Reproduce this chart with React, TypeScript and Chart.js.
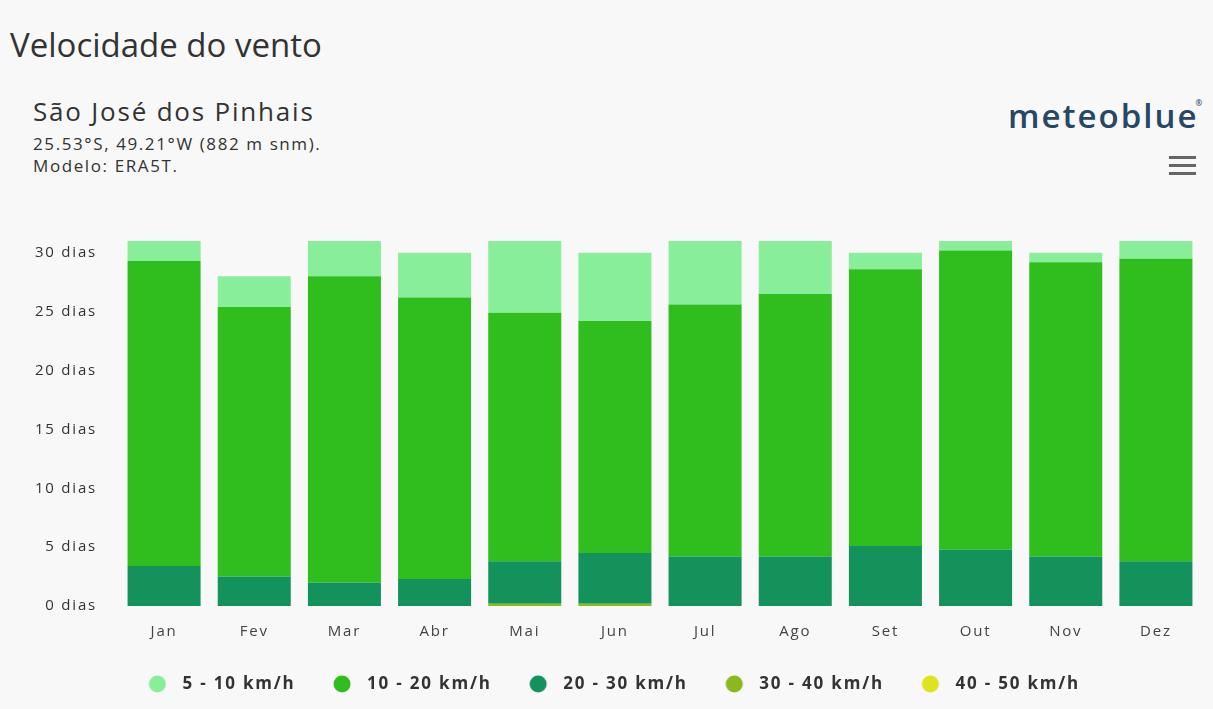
import React, { useEffect, useRef } from "react";
import { Chart, registerables } from "chart.js";

Chart.register(...registerables);

const months = ["Jan", "Fev", "Mar", "Abr", "Mai", "Jun", "Jul", "Ago", "Set", "Out", "Nov", "Dez"];
const yTicks = [0, 5, 10, 15, 20, 25, 30];

// stacked bottom-to-top
const kmh40to50 = [0, 0, 0, 0, 0, 0, 0, 0, 0, 0, 0, 0];
const kmh30to40 = [0, 0, 0, 0, 0.2, 0.2, 0, 0, 0, 0, 0, 0];
const kmh20to30 = [3.4, 2.5, 2.0, 2.3, 3.6, 4.3, 4.2, 4.2, 5.1, 4.8, 4.2, 3.8];
const kmh10to20 = [25.9, 22.9, 26.0, 23.9, 21.1, 19.7, 21.4, 22.3, 23.5, 25.4, 25.0, 25.7];
const kmh5to10 = [1.7, 2.6, 3.0, 3.8, 6.1, 5.8, 5.4, 4.5, 1.4, 0.8, 0.8, 1.5];

const FONT = "'Open Sans', 'Noto Sans', sans-serif";

const spacingPlugin = {
  id: "letterSpacing",
  afterInit(chart: any) {
    chart.ctx.letterSpacing = "1.8px";
  },
  beforeUpdate(chart: any) {
    chart.ctx.letterSpacing = "1.8px";
  },
  beforeDraw(chart: any) {
    chart.ctx.letterSpacing = "1.8px";
  },
};

// nudge the legend row into place after layout
const legendShiftPlugin = {
  id: "legendShift",
  afterLayout(chart: any) {
    const l = chart.legend;
    if (!l) return;
    l.top -= 13.5;
    l.bottom -= 13.5;
    l.left += 18;
    l.right += 18;
  },
};

// legend marker: a circle drawn on the left part of a wider transparent canvas
function markerFor(color: string) {
  const c = document.createElement("canvas");
  c.width = 34;
  c.height = 18;
  const g = c.getContext("2d");
  if (g) {
    g.fillStyle = color;
    g.beginPath();
    g.arc(9, 9, 8.5, 0, Math.PI * 2);
    g.fill();
  }
  return c;
}

export default function App() {
  const ref = useRef<HTMLCanvasElement>(null);

  useEffect(() => {
    if (!ref.current) return;
    const defaultLabels = (Chart.defaults as any).plugins.legend.labels.generateLabels;
    const chart = new Chart(ref.current, {
      type: "bar",
      data: {
        labels: months,
        datasets: [
          { label: "40 - 50 km/h", data: kmh40to50, backgroundColor: "#dde31c" },
          { label: "30 - 40 km/h", data: kmh30to40, backgroundColor: "#8ab81f" },
          { label: "20 - 30 km/h", data: kmh20to30, backgroundColor: "#13925c" },
          { label: "10 - 20 km/h", data: kmh10to20, backgroundColor: "#2fbe1e" },
          { label: "5 - 10 km/h", data: kmh5to10, backgroundColor: "#88ee99" },
        ],
      },
      plugins: [spacingPlugin, legendShiftPlugin],
      options: {
        animation: false,
        responsive: false,
        maintainAspectRatio: false,
        layout: { padding: { left: 0, right: 12, top: 11, bottom: 0 } },
        datasets: {
          bar: { categoryPercentage: 1, barPercentage: 0.81, borderWidth: 0 },
        },
        scales: {
          x: {
            stacked: true,
            grid: { display: false, drawTicks: false },
            border: { display: false },
            afterFit: (axis: any) => {
              axis.height = 37;
            },
            ticks: { color: "#444", font: { family: FONT, size: 15 }, padding: 17 },
          },
          y: {
            stacked: true,
            min: 0,
            max: 31,
            grid: { display: false, drawTicks: false },
            border: { display: false },
            afterBuildTicks: (axis: any) => {
              axis.ticks = yTicks.map((v) => ({ value: v }));
            },
            afterFit: (axis: any) => {
              axis.width = 119;
              axis.paddingTop = 0;
              axis.paddingBottom = 0;
            },
            ticks: {
              color: "#333",
              font: { family: FONT, size: 15 },
              padding: 22,
              callback: (v: any) => `${v} dias`,
            },
          },
        },
        plugins: {
          legend: {
            position: "bottom",
            reverse: true,
            labels: {
              usePointStyle: true,
              boxWidth: 17,
              boxHeight: 13,
              padding: 46,
              color: "#333",
              font: { family: FONT, size: 17, weight: "bold" },
              generateLabels: (ch: any) =>
                defaultLabels(ch).map((item: any) => ({ ...item, pointStyle: markerFor(item.fillStyle) })),
            },
          },
          tooltip: { enabled: false },
        },
      },
    });
    return () => chart.destroy();
  }, []);

  return (
    <div
      style={{
        position: "absolute",
        left: 0,
        top: 0,
        width: 1213,
        height: 709,
        background: "#f8f8f8",
        overflow: "hidden",
        fontFamily: FONT,
        lineHeight: 1,
      }}
    >
      <div style={{ position: "absolute", left: 10, top: 28, fontSize: 33, color: "#333", whiteSpace: "nowrap" }}>
        Velocidade do vento
      </div>
      <div
        style={{
          position: "absolute",
          left: 33,
          top: 98,
          fontSize: 26,
          fontWeight: 500,
          letterSpacing: 1.8,
          color: "#333",
          whiteSpace: "nowrap",
        }}
      >
        São José dos Pinhais
      </div>
      <div style={{ position: "absolute", left: 33, top: 135, fontSize: 17, letterSpacing: 1.6, color: "#333", whiteSpace: "nowrap" }}>
        25.53°S, 49.21°W (882 m snm).
      </div>
      <div style={{ position: "absolute", left: 33, top: 157, fontSize: 17, letterSpacing: 1.6, color: "#333", whiteSpace: "nowrap" }}>
        Modelo: ERA5T.
      </div>
      <div
        style={{
          position: "absolute",
          left: 1008,
          top: 99,
          fontSize: 33,
          fontWeight: 600,
          color: "#274766",
          whiteSpace: "nowrap",
          letterSpacing: 2,
        }}
      >
        meteoblue
        <span style={{ fontSize: 8, letterSpacing: 0, position: "absolute", left: "100%", marginLeft: -3, top: 0 }}>®</span>
      </div>
      <div style={{ position: "absolute", left: 1169, top: 156, width: 27 }}>
        {[0, 1, 2].map((i) => (
          <div key={i} style={{ height: 3, background: "#666", marginBottom: 5 }} />
        ))}
      </div>
      <canvas ref={ref} width={1213} height={486} style={{ position: "absolute", left: 0, top: 230, width: 1213, height: 486 }} />
    </div>
  );
}
